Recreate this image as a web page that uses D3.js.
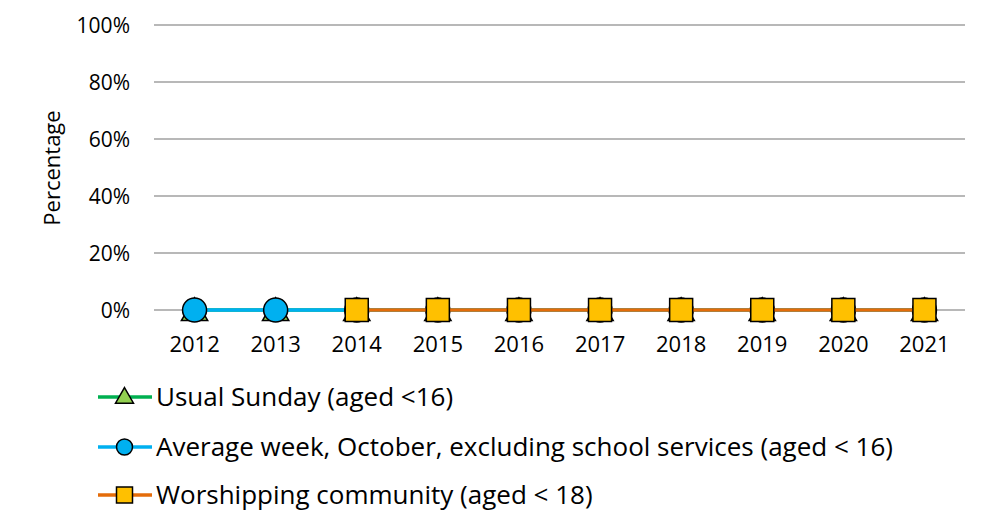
<!DOCTYPE html>
<html><head><meta charset="utf-8">
<script src="https://cdn.jsdelivr.net/npm/d3@7"></script>
<style>body{margin:0;background:#fff;} svg text{font-family:"Open Sans","Noto Sans",sans-serif;fill:#000;}</style>
</head><body><svg id="c" width="984" height="513"></svg>
<script>
const years = ["2012","2013","2014","2015","2016","2017","2018","2019","2020","2021"];
const usualSunday = [0,0,0,0,0,0,0,0,0,0];
const averageWeek = [0,0,0,0,0,0,0,0,0,0];
const worshipping = [null,null,0,0,0,0,0,0,0,0];
const yTicks = [0,0.2,0.4,0.6,0.8,1.0];
const seriesNames = ["Usual Sunday (aged <16)","Average week, October, excluding school services (aged < 16)","Worshipping community (aged < 18)"];

const svg = d3.select("#c");
const x = d3.scaleBand().domain(years).range([154,965]);
const y = d3.scaleLinear().domain([0,1]).range([310,25]);

// gridlines
svg.append("g").selectAll("line").data(yTicks).join("line")
  .attr("x1",154).attr("x2",965).attr("y1",d=>y(d)).attr("y2",d=>y(d))
  .attr("stroke","#a0a0a0").attr("stroke-width",1.5);

// y axis labels
const yAxis = d3.axisLeft(y).tickValues(yTicks).tickFormat(d3.format(".0%")).tickSize(0).tickPadding(0);
const ya = svg.append("g").attr("transform","translate(130,0)").call(yAxis);
ya.select(".domain").remove();
ya.attr("font-family",null).attr("font-size",null);
ya.selectAll("text").attr("font-size",21).attr("dy","0.36em");

// x axis labels
const xAxis = d3.axisBottom(x).tickSize(0).tickPadding(0);
const xa = svg.append("g").attr("transform","translate(0,352)").call(xAxis);
xa.select(".domain").remove();
xa.attr("font-family",null).attr("font-size",null);
xa.selectAll("text").attr("font-size",22).attr("y",0).attr("dy",0);

svg.append("text").attr("transform","translate(52,168) rotate(-90)")
  .attr("text-anchor","middle").attr("dy","0.35em").attr("font-size",22).text("Percentage");

const cx = i => x(years[i]) + x.bandwidth()/2;
const series = [
  {vals:usualSunday, line:"#00b050", fill:"#92d050", shape:"tri"},
  {vals:averageWeek, line:"#00b0f0", fill:"#00b0f0", shape:"circ"},
  {vals:worshipping, line:"#e46c0a", fill:"#ffc000", shape:"sq"}
];
function marker(g, shape, fill, px, py, big){
  if(shape==="tri"){
    g.append("path").attr("d",d3.symbol(d3.symbolTriangle, big?300:140)()).attr("transform",`translate(${px},${py+(big?3:1)})`)
     .attr("fill",fill).attr("stroke","#000").attr("stroke-width",1.5);
  } else if(shape==="circ"){
    g.append("circle").attr("cx",px).attr("cy",py).attr("r",big?12:8)
     .attr("fill",fill).attr("stroke","#000").attr("stroke-width",1.5);
  } else {
    const h = big?11.5:8;
    g.append("rect").attr("x",px-h).attr("y",py-h).attr("width",2*h).attr("height",2*h)
     .attr("fill",fill).attr("stroke","#000").attr("stroke-width",1.5);
  }
}
series.forEach(sr=>{
  const g = svg.append("g");
  const line = d3.line().defined(d=>d!==null).x((d,i)=>cx(i)).y(d=>y(d));
  g.append("path").datum(sr.vals).attr("d",line).attr("fill","none").attr("stroke",sr.line).attr("stroke-width",3.5);
  sr.vals.forEach((v,i)=>{ if(v!==null) marker(g, sr.shape, sr.fill, cx(i), y(v), true); });
});

// legend
const legY = [397,447,495];
series.forEach((sr,k)=>{
  const g = svg.append("g");
  g.append("line").attr("x1",98).attr("x2",152).attr("y1",legY[k]).attr("y2",legY[k]).attr("stroke",sr.line).attr("stroke-width",3.5);
  marker(g, sr.shape, sr.fill, 124.5, legY[k], false);
  g.append("text").attr("x",156).attr("y",legY[k]).attr("dy","0.36em").attr("font-size",26).text(seriesNames[k]);
});
</script></body></html>
